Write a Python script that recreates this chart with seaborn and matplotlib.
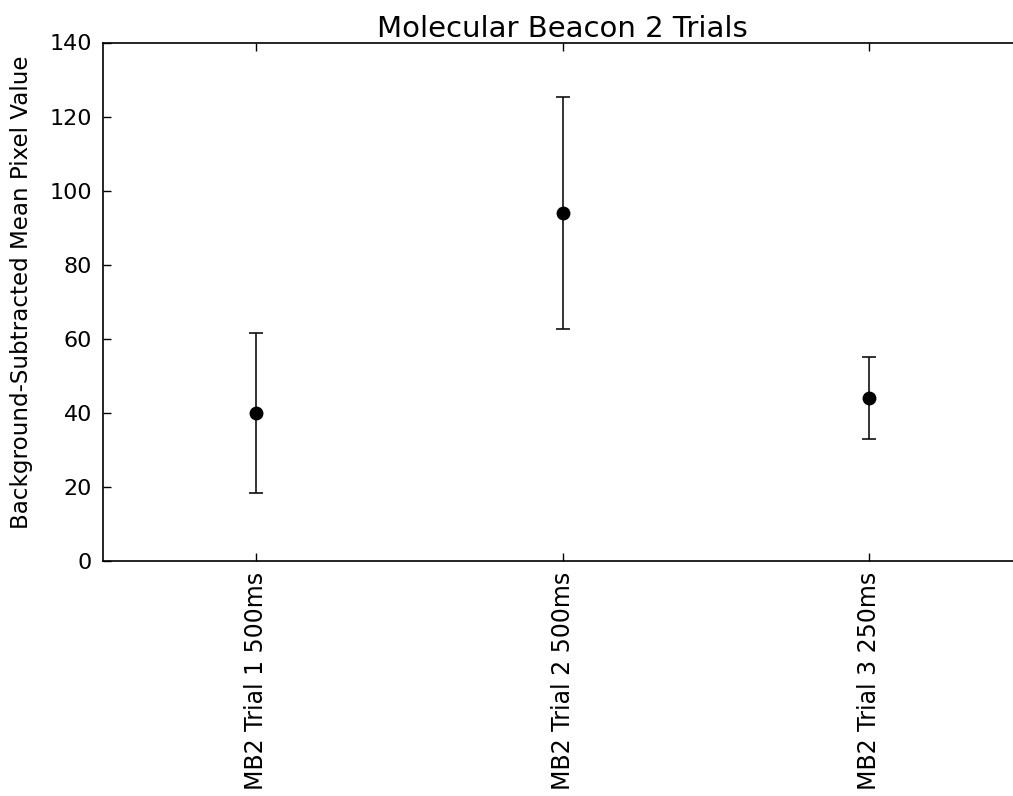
import numpy as np
import matplotlib
matplotlib.use("Agg")
import matplotlib.pyplot as plt
import seaborn as sns

categories = ["MB2 Trial 1 500ms", "MB2 Trial 2 500ms", "MB2 Trial 3 250ms"]
means = [39.9, 94.0, 44.0]
errors = [21.6, 31.4, 11.1]
yticks = [0, 20, 40, 60, 80, 100, 120, 140]

sns.set_style("ticks")
plt.rcParams['font.family'] = ['DejaVu Sans']
plt.rcParams['text.color'] = 'black'
plt.rcParams['axes.labelcolor'] = 'black'
plt.rcParams['xtick.color'] = 'black'
plt.rcParams['ytick.color'] = 'black'

fig = plt.figure(figsize=(10.13, 7.96), dpi=100)
ax = fig.add_axes([103/1013, (796-561)/796, (1022-103)/1013, (561-42.5)/796])

x = np.arange(len(categories))
ax.errorbar(x, means, yerr=errors, fmt='none', ecolor='#111111', elinewidth=1.2,
            capsize=5, capthick=1.2, zorder=2)
sns.scatterplot(x=x, y=means, ax=ax, color='black', s=100, edgecolor='black',
                linewidth=0, zorder=3, legend=False)

ax.set_xlim(-0.5, 2.5)
ax.set_ylim(0, 140)
ax.set_yticks(yticks)
ax.set_xticks(x)
ax.set_xticklabels(categories, rotation=90, fontsize=17)
ax.tick_params(axis='y', labelsize=16)
ax.tick_params(direction='in', length=6, width=1, top=True, right=True,
               color='black', labelcolor='black', pad=8)
for s in ax.spines.values():
    s.set_linewidth(1.2)
    s.set_color('black')
ax.set_ylabel("Background-Subtracted Mean Pixel Value", fontsize=16.6,
              color='black')
ax.yaxis.set_label_coords(-0.076, 0.519)
ax.set_xlabel("")
ax.set_title("Molecular Beacon 2 Trials", fontsize=21, color='black', pad=4)

fig.savefig("out.png", dpi=100)
